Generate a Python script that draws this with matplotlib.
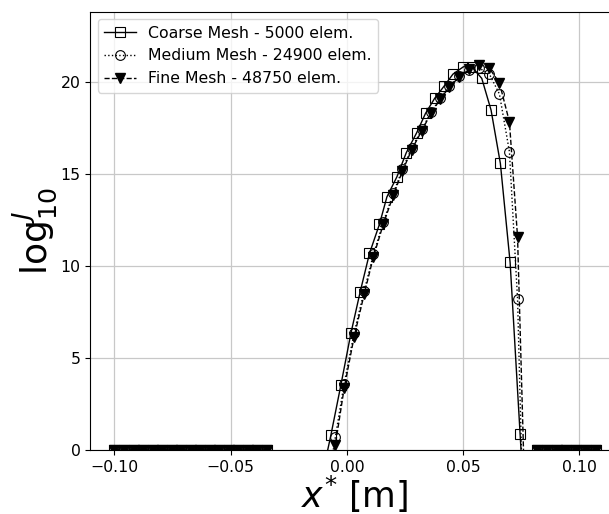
import matplotlib
matplotlib.use("Agg")
import matplotlib.pyplot as plt

# flat part of the profile (log10 J == 0) on the left and right of the jet
x_left_zero = [-0.1000, -0.0959, -0.0918, -0.0877, -0.0836, -0.0795, -0.0754, -0.0713,
               -0.0672, -0.0631, -0.0590, -0.0549, -0.0508, -0.0467, -0.0426, -0.0385, -0.0344]
x_right_zero = [0.0817, 0.0859, 0.0902, 0.0944, 0.0987, 0.1029, 0.1072]

# coarse mesh
x_coarse = [-0.0296, -0.0255, -0.0214, -0.0173, -0.0110,
            -0.0069, -0.0026, 0.0017, 0.0057, 0.0097, 0.0140, 0.0172, 0.0215, 0.0255, 0.0300,
            0.0338, 0.0377, 0.0418, 0.0456, 0.0501, 0.0537, 0.0580, 0.0620, 0.0660, 0.0702,
            0.0745, 0.0786]
y_coarse = [-5.0, -9.0, -11.0, -9.0, -1.6,
            0.81, 3.53, 6.33, 8.59, 10.67, 12.26, 13.74, 14.83, 16.13, 17.22,
            18.27, 19.08, 19.75, 20.40, 20.80, 20.80, 20.17, 18.45, 15.56, 10.18,
            0.85, -8.0]

# medium and fine mesh share the sampling positions
x_mf = [-0.0296, -0.0255, -0.0214, -0.0173, -0.0132, -0.0091,
        -0.0050, -0.0012, 0.0031, 0.0074, 0.0114, 0.0157, 0.0200, 0.0239, 0.0279, 0.0322,
        0.0361, 0.0401, 0.0441, 0.0484, 0.0527, 0.0570, 0.0613, 0.0656, 0.0699, 0.0734,
        0.0775]
y_medium = [-6.0, -9.0, -10.0, -9.0, -6.0, -2.5,
            0.69, 3.60, 6.35, 8.62, 10.62, 12.40, 13.95, 15.25, 16.40, 17.40,
            18.32, 19.08, 19.75, 20.30, 20.62, 20.72, 20.40, 19.32, 16.19, 8.18,
            -12.0]
y_fine = [-6.0, -9.0, -10.0, -9.0, -6.0, -3.0,
          0.27, 3.35, 6.15, 8.45, 10.49, 12.28, 13.84, 15.15, 16.31, 17.33,
          18.27, 19.03, 19.71, 20.26, 20.66, 20.89, 20.71, 19.93, 17.81, 11.55,
          -7.0]

labels = ["Coarse Mesh - 5000 elem.", "Medium Mesh - 24900 elem.", "Fine Mesh - 48750 elem."]


def full(xs, ys):
    x = x_left_zero + xs + x_right_zero
    y = [0.0] * len(x_left_zero) + ys + [0.0] * len(x_right_zero)
    return x, y


fig = plt.figure(figsize=(6.09, 5.14), dpi=100)
ax = fig.add_axes([0.1483, 0.1245, 0.8695, 0.8531])

x, y = full(x_coarse, y_coarse)
ax.plot(x, y, color="black", linestyle="-", linewidth=1.0, marker="s",
        markersize=7, markerfacecolor="none", markeredgewidth=0.8, label=labels[0])
x, y = full(x_mf, y_medium)
ax.plot(x, y, color="black", linestyle=":", linewidth=1.0, marker="o",
        markersize=7, markerfacecolor="none", markeredgewidth=0.8, label=labels[1])
x, y = full(x_mf, y_fine)
ax.plot(x, y, color="black", linestyle="--", linewidth=1.0, marker="v",
        markersize=7, markerfacecolor="black", label=labels[2])

ax.set_xlim(-0.1104, 0.1174)
ax.set_ylim(0, 23.8)
ax.set_xticks([-0.10, -0.05, 0.00, 0.05, 0.10])
ax.set_yticks([0, 5, 10, 15, 20])
ax.tick_params(labelsize=11.3)
ax.grid(True, color="#c8c8c8", linewidth=0.9)
ax.set_axisbelow(True)

ax.set_xlabel(r"$x^{*}$ [m]", fontsize=25, labelpad=-1)
ax.set_ylabel(r"$\log_{10}^{J}$", fontsize=26, labelpad=0)
ax.legend(loc="upper left", fontsize=11.3)

fig.savefig("out.png", dpi=100)
